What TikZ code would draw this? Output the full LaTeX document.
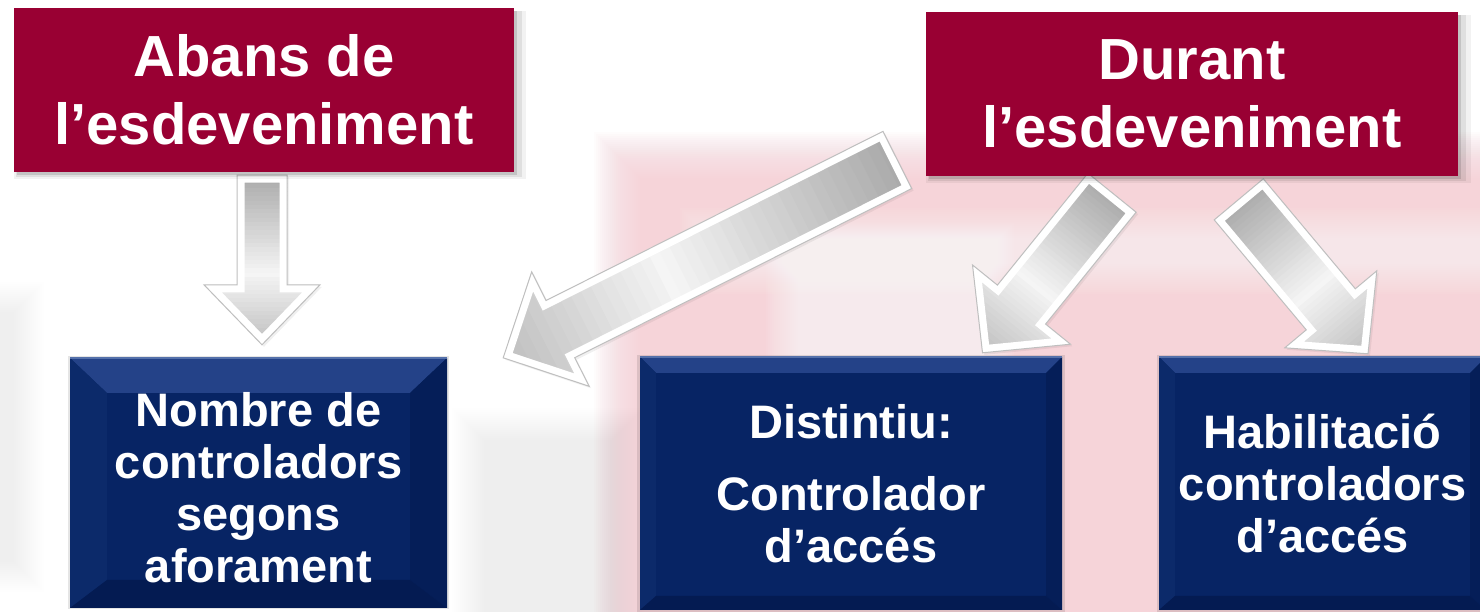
\documentclass[tikz,border=0pt]{standalone}
\usepackage{fontspec}
\setmainfont{Liberation Sans}
\usetikzlibrary{calc,shadows}
\definecolor{wine}{RGB}{153,0,51}
\definecolor{navy}{RGB}{7,36,100}
\definecolor{navytop}{RGB}{36,66,136}
\definecolor{navyleft}{RGB}{12,42,106}
\definecolor{navyright}{RGB}{5,30,88}
\definecolor{navybot}{RGB}{4,27,82}
\definecolor{navyhi}{RGB}{84,112,170}
\definecolor{pinkc}{RGB}{246,203,210}
\definecolor{arrgray}{RGB}{150,150,150}
\pgfdeclarelayer{bg}\pgfdeclarelayer{lower}\pgfdeclarelayer{arrows}
\pgfsetlayers{bg,lower,arrows,main}
\newcommand\bevelpaint{%
  \fill[navytop] (path picture bounding box.north west) -- (path picture bounding box.north east)
     -- ([xshift=-\bvW,yshift=-\bvT]path picture bounding box.north east)
     -- ([xshift=\bvW,yshift=-\bvT]path picture bounding box.north west) -- cycle;
  \fill[navyleft] (path picture bounding box.north west) -- ([xshift=\bvW,yshift=-\bvT]path picture bounding box.north west)
     -- ([xshift=\bvW,yshift=\bvB]path picture bounding box.south west) -- (path picture bounding box.south west) -- cycle;
  \fill[navyright] (path picture bounding box.north east) -- ([xshift=-\bvW,yshift=-\bvT]path picture bounding box.north east)
     -- ([xshift=-\bvW,yshift=\bvB]path picture bounding box.south east) -- (path picture bounding box.south east) -- cycle;
  \fill[navybot] (path picture bounding box.south west) -- ([xshift=\bvW,yshift=\bvB]path picture bounding box.south west)
     -- ([xshift=-\bvW,yshift=\bvB]path picture bounding box.south east) -- (path picture bounding box.south east) -- cycle;
  \draw[navyhi, line width=2pt] (path picture bounding box.north west) -- (path picture bounding box.north east);
}
% soft-edged rectangle: colour, opacity per layer, x1,y1,x2,y2, number of layers (step 2pt)
\newcommand\softrect[7]{%
  \foreach \i in {0,...,#7}
    \fill[#1, opacity=#2] (#3+2*\i,#4+2*\i) rectangle (#5-2*\i,#6-2*\i);
}
% block arrow: tail, tip, half shaft width, half head width, head length
\newcommand\blockarrow[5]{%
  \coordinate (J) at ($(#2)!#5!(#1)$);
  \coordinate (far) at ($(#2)!3!(#1)$);
  \coordinate (TL) at ($(#1)!#3!90:(#2)$);
  \coordinate (TR) at ($(#1)!#3!-90:(#2)$);
  \coordinate (JL) at ($(J)!#3!90:(#2)$);
  \coordinate (JR) at ($(J)!#3!-90:(#2)$);
  \coordinate (BL) at ($(J)!#4!90:(#2)$);
  \coordinate (BR) at ($(J)!#4!-90:(#2)$);
  \fill[black, opacity=0.06] ([shift={(2,-2)}]TL) -- ([shift={(2,-2)}]JL) -- ([shift={(2,-2)}]BL) -- ([shift={(2,-2)}]#2)
     -- ([shift={(2,-2)}]BR) -- ([shift={(2,-2)}]JR) -- ([shift={(2,-2)}]TR) -- cycle;
  \begin{scope}
    \clip (TL) -- (JL) -- (BL) -- (#2) -- (BR) -- (JR) -- (TR) -- cycle;
    \foreach \k in {-1,...,40} {
      \pgfmathsetmacro\fa{\k/40}
      \pgfmathsetmacro\fb{(\k+1.25)/40}
      \pgfmathtruncatemacro\pc{min(100,max(0,10+125*abs((\k+0.5)/40-0.42)))}
      \fill[arrgray!\pc!white]
        ($($(#2)!\fa!(#1)$)!80pt!90:(far)$) -- ($($(#2)!\fb!(#1)$)!80pt!90:(far)$)
        -- ($($(#2)!\fb!(#1)$)!80pt!-90:(far)$) -- ($($(#2)!\fa!(#1)$)!80pt!-90:(far)$) -- cycle;
    }
    \draw[white, line width=15pt, line join=miter] (TL) -- (JL) -- (BL) -- (#2) -- (BR) -- (JR) -- (TR) -- cycle;
  \end{scope}
  \draw[gray!50, line width=1pt, line join=miter] (TL) -- (JL) -- (BL) -- (#2) -- (BR) -- (JR) -- (TR) -- cycle;
}
\tikzset{
  bvw/.store in=\bvW, bvt/.store in=\bvT, bvb/.store in=\bvB,
  bvw=16pt, bvt=16pt, bvb=14pt,
  redbox/.style={fill=wine, text=white, align=center, inner sep=0pt,
    font=\fontsize{58}{68}\selectfont\bfseries,
    general shadow={fill=black, opacity=0.05, shadow xshift=6pt, shadow yshift=-5pt, shadow scale=1.025},
    general shadow={fill=black, opacity=0.08, shadow xshift=5pt, shadow yshift=-4pt, shadow scale=1.012},
    general shadow={fill=black, opacity=0.12, shadow xshift=3pt, shadow yshift=-3pt}},
  bluebox/.style={fill=navy, text=white, align=center, inner sep=0pt,
    font=\fontsize{47}{52}\selectfont\bfseries,
    general shadow={fill=black, opacity=0.10, shadow xshift=0pt, shadow yshift=0pt, shadow scale=1.012},
    path picture={\bevelpaint}}
}
\begin{document}
\begin{tikzpicture}[x=1pt,y=1pt]
\useasboundingbox (0,0) rectangle (1480,612);
\begin{pgfonlayer}{bg}
  \fill[white] (0,0) rectangle (1480,612);
  % soft pink watermark area
  \softrect{pinkc}{0.05}{594}{-60}{1540}{480}{23}
  % lighter streaks inside it
  \softrect{white}{0.05}{680}{318}{1540}{404}{15}
  \softrect{white}{0.06}{766}{226}{1014}{389}{16}
  % faint grey haze
  \softrect{black}{0.003}{-40}{20}{44}{330}{15}
  \softrect{black}{0.0025}{452}{-40}{644}{204}{16}
\end{pgfonlayer}

\node[redbox, minimum width=500pt, minimum height=164pt] (abans) at (264,522) {Abans de\\l’esdeveniment};
\node[redbox, minimum width=532pt, minimum height=164pt] (durant) at (1192,518) {Durant\\l’esdeveniment};

\begin{pgfonlayer}{lower}
  \node[bluebox, bvw=37pt, bvt=35pt, bvb=28pt, minimum width=377pt, minimum height=250pt] (nombre) at (258.5,129)
    {\rule{0pt}{44pt}Nombre de\\controladors\\segons\\aforament};
  \node[bluebox, minimum width=422pt, minimum height=253pt] (dist) at (851,128.5)
    {Distintiu:\\[20pt]Controlador\\d’accés};
  \node[bluebox, minimum width=327pt, minimum height=253pt] (habil) at (1322.5,128.5)
    {Habilitació\\controladors\\d’accés};
\end{pgfonlayer}

\begin{pgfonlayer}{arrows}
  \coordinate (a1s) at ($(abans.south)+(-2,-3)$);
  \coordinate (a1e) at ($(nombre.north)+(3.5,13)$);
  \blockarrow{a1s}{a1e}{25pt}{58pt}{60pt}
  \coordinate (a2s) at ($(durant.west)+(-28.5,-66)$);
  \coordinate (a2e) at ($(nombre.north east)+(56,0)$);
  \blockarrow{a2s}{a2e}{32pt}{64pt}{64pt}
  \coordinate (a3s) at ($(durant.south)+(-80,-16.5)$);
  \coordinate (a3e) at ($(dist.north)+(131.5,4)$);
  \blockarrow{a3s}{a3e}{31pt}{63pt}{62pt}
  \coordinate (a4s) at ($(durant.south)+(46.75,-23.15)$);
  \coordinate (a4e) at ($(habil.north)+(45.5,3)$);
  \blockarrow{a4s}{a4e}{32pt}{60pt}{58pt}
\end{pgfonlayer}
\end{tikzpicture}
\end{document}
